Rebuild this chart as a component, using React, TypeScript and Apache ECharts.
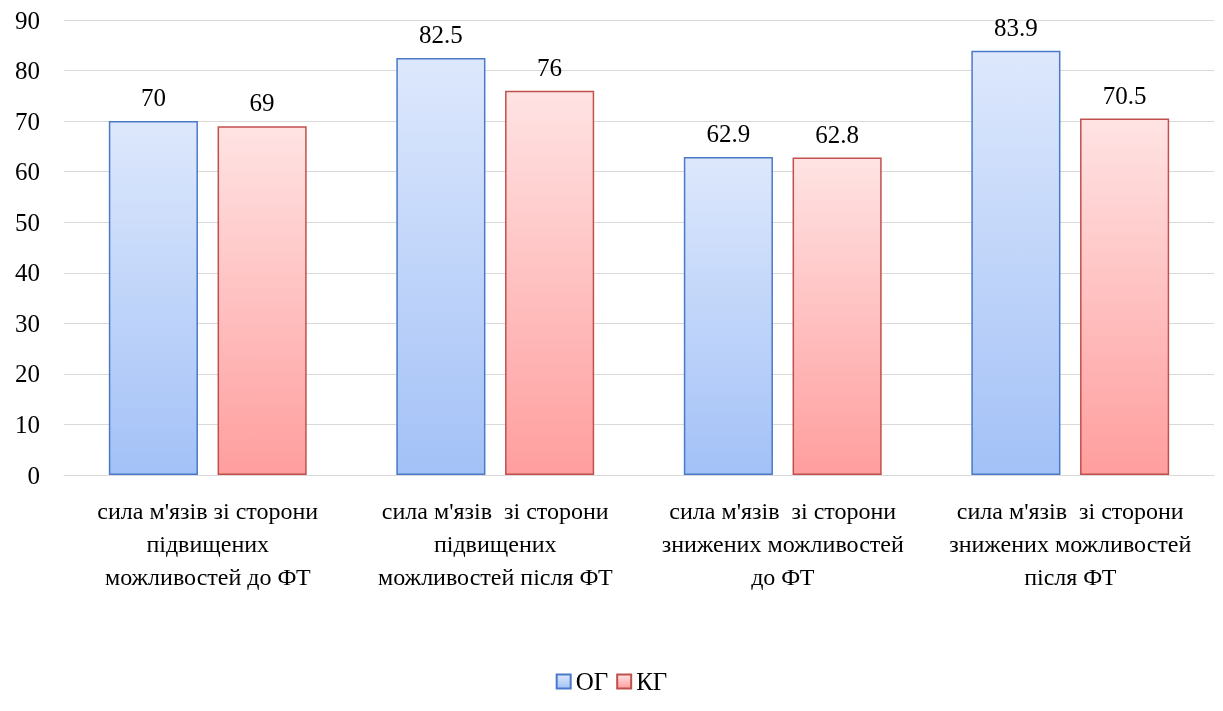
import React, { useEffect, useRef } from "react";
import * as echarts from "echarts";

const categories = [
  "сила м'язів зі сторони\nпідвищених\nможливостей до ФТ",
  "сила м'язів  зі сторони\nпідвищених\nможливостей після ФТ",
  "сила м'язів  зі сторони\nзнижених можливостей\nдо ФТ",
  "сила м'язів  зі сторони\nзнижених можливостей\nпісля ФТ",
];
const ogValues = [70, 82.5, 62.9, 83.9];
const kgValues = [69, 76, 62.8, 70.5];
const seriesNames = ["ОГ", "КГ"];

const F = "Liberation Serif";

export default function App() {
  const ref = useRef<HTMLDivElement>(null);

  useEffect(() => {
    if (!ref.current) return;
    const chart = echarts.init(ref.current, undefined, { renderer: "svg" });

    const grad = (top: string, bottom: string) =>
      new echarts.graphic.LinearGradient(0, 0, 0, 1, [
        { offset: 0, color: top },
        { offset: 1, color: bottom },
      ]);

    chart.setOption({
      animation: false,
      textStyle: { fontFamily: F },
      grid: { left: 64, right: 9, top: 20, bottom: 236 },
      legend: {
        icon: "rect",
        data: seriesNames,
        bottom: 12,
        itemWidth: 14,
        itemHeight: 14,
        textStyle: { fontFamily: F, fontSize: 25, color: "#000" },
      },
      xAxis: {
        type: "category",
        data: categories,
        axisTick: { show: false },
        axisLine: { lineStyle: { color: "#d9d9d9" } },
        axisLabel: { interval: 0, margin: 19, fontFamily: F, fontSize: 24, lineHeight: 33, color: "#000" },
      },
      yAxis: {
        type: "value",
        min: 0,
        max: 90,
        interval: 10,
        axisLine: { show: false },
        axisTick: { show: false },
        splitLine: { lineStyle: { color: "#d9d9d9" } },
        axisLabel: { fontFamily: F, fontSize: 25, color: "#000", margin: 24 },
      },
      series: [
        {
          name: seriesNames[0],
          type: "bar",
          data: ogValues,
          barWidth: "31%",
          barGap: "22%",
          itemStyle: { color: grad("#dde8fc", "#a3c1f7"), borderColor: "#4a7ac7", borderWidth: 1.5 },
          label: { show: true, position: "top", distance: 11, fontFamily: F, fontSize: 25, color: "#000" },
        },
        {
          name: seriesNames[1],
          type: "bar",
          data: kgValues,
          barWidth: "31%",
          itemStyle: { color: grad("#ffe3e3", "#ff9e9e"), borderColor: "#c0504d", borderWidth: 1.5 },
          label: { show: true, position: "top", distance: 11, fontFamily: F, fontSize: 25, color: "#000" },
        },
      ],
    });

    return () => chart.dispose();
  }, []);

  return <div ref={ref} style={{ position: "fixed", left: 0, top: 0, width: 1223, height: 711 }} />;
}
